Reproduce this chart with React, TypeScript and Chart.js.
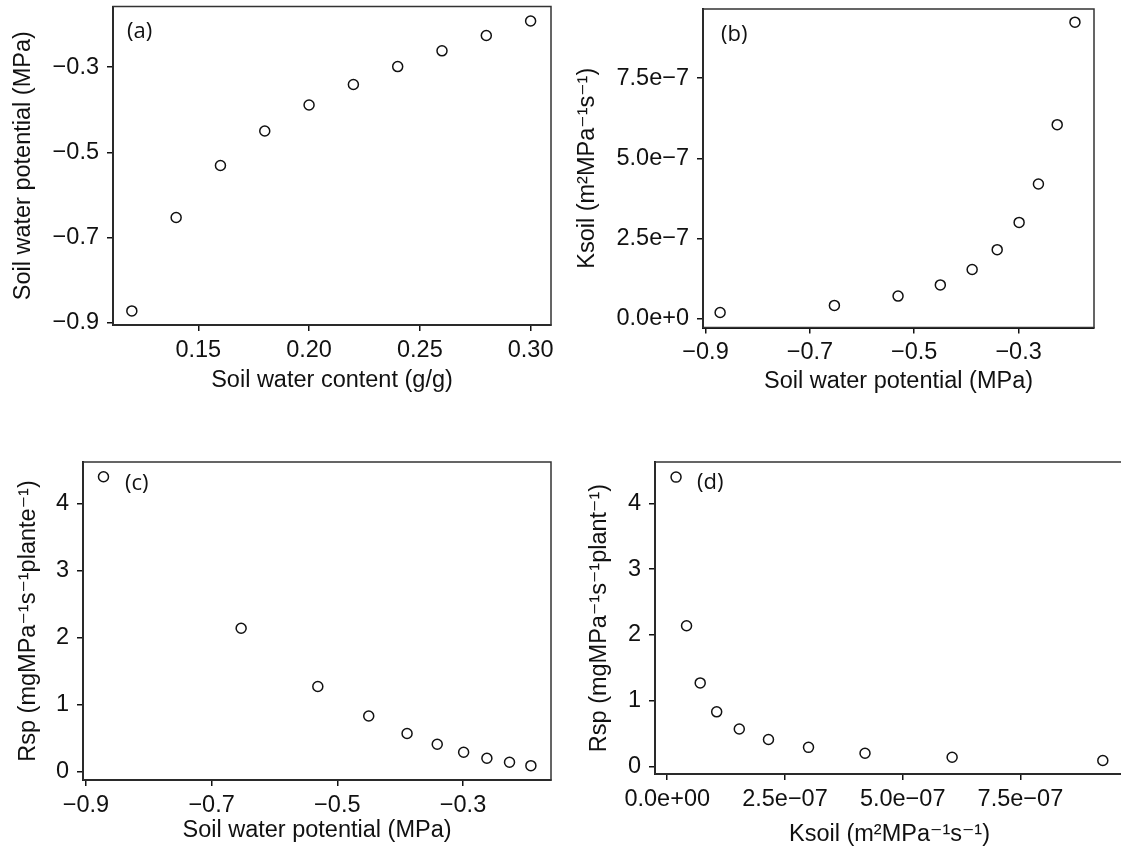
import React, { useEffect, useRef } from 'react';
import Chart from 'chart.js/auto';

// ---------- data ----------
const SOIL_WATER_CONTENT = [0.12, 0.14, 0.16, 0.18, 0.2, 0.22, 0.24, 0.26, 0.28, 0.3];
const SOIL_WATER_POTENTIAL = [-0.872, -0.653, -0.531, -0.45, -0.389, -0.341, -0.299, -0.262, -0.226, -0.192];
const KSOIL = [1.87e-8, 4.1e-8, 7.0e-8, 1.05e-7, 1.53e-7, 2.15e-7, 3.0e-7, 4.2e-7, 6.05e-7, 9.25e-7];
const RSP = [4.4, 2.14, 1.27, 0.83, 0.57, 0.41, 0.29, 0.2, 0.14, 0.09];

// ---------- ticks ----------
const SWC_TICKS = [0.15, 0.2, 0.25, 0.3];
const SWC_TICK_LABELS = ['0.15', '0.20', '0.25', '0.30'];
const PSI_TICKS = [-0.9, -0.7, -0.5, -0.3];
const PSI_TICK_LABELS = ['\u22120.9', '\u22120.7', '\u22120.5', '\u22120.3'];
const KSOIL_TICKS = [0, 2.5e-7, 5e-7, 7.5e-7];
const KSOIL_TICK_LABELS_B = ['0.0e+0', '2.5e\u22127', '5.0e\u22127', '7.5e\u22127'];
const KSOIL_TICK_LABELS_D = ['0.0e+00', '2.5e\u221207', '5.0e\u221207', '7.5e\u221207'];
const RSP_TICKS = [0, 1, 2, 3, 4];
const RSP_TICK_LABELS = ['0', '1', '2', '3', '4'];

// ---------- titles ----------
const TITLE_SWC = 'Soil water content (g/g)';
const TITLE_PSI = 'Soil water potential (MPa)';
const TITLE_KSOIL = 'Ksoil (m\u00b2MPa\u207b\u00b9s\u207b\u00b9)';
const TITLE_RSP_C = 'Rsp (mgMPa\u207b\u00b9s\u207b\u00b9plante\u207b\u00b9)';
const TITLE_RSP_D = 'Rsp (mgMPa\u207b\u00b9s\u207b\u00b9plant\u207b\u00b9)';

const INK = '#111';
const FAMILY = '"Liberation Sans", Arial, "DejaVu Sans", sans-serif';
const TICK_SIZE = 23.5;
const TITLE_SIZE = 23.5;
const LH = 1.2;

const boxPlugin = {
  id: 'frameBox',
  afterDraw(chart: any) {
    const { ctx, chartArea } = chart;
    ctx.save();
    ctx.strokeStyle = '#333';
    ctx.lineWidth = 1.5;
    ctx.strokeRect(chartArea.left, chartArea.top, chartArea.right - chartArea.left, chartArea.bottom - chartArea.top);
    ctx.restore();
  },
};

const labelPlugin = {
  id: 'panelLabel',
  afterDraw(chart: any, _args: any, opts: any) {
    const { ctx, chartArea } = chart;
    ctx.save();
    ctx.font = '22px "Open Sans", sans-serif';
    ctx.fillStyle = INK;
    ctx.textBaseline = 'middle';
    ctx.textAlign = 'left';
    ctx.fillText(opts.text, chartArea.left + opts.dx, chartArea.top + opts.dy);
    ctx.restore();
  },
};

type AxisSpec = {
  min: number;
  max: number;
  ticks: number[];
  labels: string[];
  title: string;
  titleCenter: number;
};

type PanelSpec = {
  left: number;
  top: number;
  width: number;
  height: number;
  box: { L: number; R: number; T: number; B: number };
  xs: number[];
  ys: number[];
  x: AxisSpec;
  y: AxisSpec;
  label: string;
  labelDx: number;
  labelDy: number;
};

function makeAxis(a: AxisSpec, horizontal: boolean, size: number, canvasH: number) {
  const lh = TITLE_SIZE * LH;
  const titlePad = horizontal ? canvasH - a.titleCenter - lh / 2 : a.titleCenter - lh / 2;
  return {
    type: 'linear',
    position: horizontal ? 'bottom' : 'left',
    min: a.min,
    max: a.max,
    afterBuildTicks: (s: any) => {
      s.ticks = a.ticks.map((v) => ({ value: v }));
    },
    afterFit: (s: any) => {
      if (horizontal) s.height = size;
      else s.width = size;
      s.paddingLeft = 0;
      s.paddingRight = 0;
      s.paddingTop = 0;
      s.paddingBottom = 0;
    },
    ticks: {
      autoSkip: false,
      maxRotation: 0,
      minRotation: 0,
      padding: horizontal ? 5 : 8,
      color: INK,
      font: { family: FAMILY, size: TICK_SIZE, lineHeight: LH },
      callback: (_v: any, i: number) => a.labels[i],
    },
    grid: {
      drawOnChartArea: false,
      drawTicks: true,
      tickLength: 6,
      tickWidth: 1.5,
      tickColor: INK,
      color: INK,
      lineWidth: 1.5,
    },
    border: { display: true, color: INK, width: 2 },
    title: {
      display: true,
      text: a.title,
      color: INK,
      font: { family: FAMILY, size: TITLE_SIZE, lineHeight: LH },
      padding: horizontal ? { top: 0, bottom: titlePad } : { top: titlePad, bottom: 0 },
    },
  };
}

const PANELS: PanelSpec[] = [
  {
    left: 0, top: 0, width: 560, height: 420,
    box: { L: 113, R: 551, T: 6, B: 325 },
    xs: SOIL_WATER_CONTENT, ys: SOIL_WATER_POTENTIAL,
    x: { min: 0.1115, max: 0.3092, ticks: SWC_TICKS, labels: SWC_TICK_LABELS, title: TITLE_SWC, titleCenter: 381 },
    y: { min: -0.905, max: -0.158, ticks: PSI_TICKS, labels: PSI_TICK_LABELS, title: TITLE_PSI, titleCenter: 24 },
    label: '(a)', labelDx: 14, labelDy: 25.5,
  },
  {
    left: 560, top: 0, width: 561, height: 420,
    box: { L: 143, R: 534, T: 9, B: 327.5 },
    xs: SOIL_WATER_POTENTIAL, ys: KSOIL,
    x: { min: -0.9048, max: -0.1555, ticks: PSI_TICKS, labels: PSI_TICK_LABELS, title: TITLE_PSI, titleCenter: 382 },
    y: { min: -0.28e-7, max: 9.66e-7, ticks: KSOIL_TICKS, labels: KSOIL_TICK_LABELS_B, title: TITLE_KSOIL, titleCenter: 28 },
    label: '(b)', labelDx: 18, labelDy: 25.5,
  },
  {
    left: 0, top: 420, width: 560, height: 435,
    box: { L: 83, R: 551, T: 42, B: 360 },
    xs: SOIL_WATER_POTENTIAL, ys: RSP,
    x: { min: -0.9046, max: -0.16, ticks: PSI_TICKS, labels: PSI_TICK_LABELS, title: TITLE_PSI, titleCenter: 410.5 },
    y: { min: -0.124, max: 4.62, ticks: RSP_TICKS, labels: RSP_TICK_LABELS, title: TITLE_RSP_C, titleCenter: 29 },
    label: '(c)', labelDx: 42, labelDy: 21.5,
  },
  {
    left: 560, top: 420, width: 580, height: 435,
    box: { L: 95, R: 564, T: 42, B: 354 },
    xs: KSOIL, ys: RSP,
    x: { min: -0.26e-7, max: 9.7e-7, ticks: KSOIL_TICKS, labels: KSOIL_TICK_LABELS_D, title: TITLE_KSOIL, titleCenter: 414.5 },
    y: { min: -0.115, max: 4.63, ticks: RSP_TICKS, labels: RSP_TICK_LABELS, title: TITLE_RSP_D, titleCenter: 39.4 },
    label: '(d)', labelDx: 42, labelDy: 20.5,
  },
];

function Panel({ spec }: { spec: PanelSpec }) {
  const ref = useRef<HTMLCanvasElement | null>(null);
  useEffect(() => {
    if (!ref.current) return;
    const { box, width, height } = spec;
    const chart = new Chart(ref.current, {
      type: 'scatter',
      data: {
        datasets: [
          {
            data: spec.xs.map((x, i) => ({ x, y: spec.ys[i] })),
            pointStyle: 'circle',
            pointRadius: 5,
            pointHoverRadius: 5,
            pointBorderWidth: 1.5,
            pointBorderColor: INK,
            pointBackgroundColor: 'rgba(0,0,0,0)',
            showLine: false,
          },
        ],
      },
      options: {
        animation: false,
        responsive: false,
        maintainAspectRatio: false,
        events: [],
        layout: { padding: { left: 0, top: box.T, right: width - box.R, bottom: 0 } },
        plugins: {
          legend: { display: false },
          tooltip: { enabled: false },
          panelLabel: { text: spec.label, dx: spec.labelDx, dy: spec.labelDy },
        } as any,
        scales: {
          x: makeAxis(spec.x, true, height - box.B, height) as any,
          y: makeAxis(spec.y, false, box.L, height) as any,
        },
      },
      plugins: [boxPlugin, labelPlugin],
    });
    return () => chart.destroy();
  }, [spec]);
  return (
    <canvas
      ref={ref}
      width={spec.width}
      height={spec.height}
      style={{ position: 'absolute', left: spec.left, top: spec.top, width: spec.width, height: spec.height }}
    />
  );
}

export default function App() {
  return (
    <div
      style={{
        position: 'absolute',
        left: 0,
        top: 0,
        width: 1121,
        height: 855,
        overflow: 'hidden',
        background: '#fff',
      }}
    >
      {PANELS.map((p) => (
        <Panel key={p.label} spec={p} />
      ))}
    </div>
  );
}
